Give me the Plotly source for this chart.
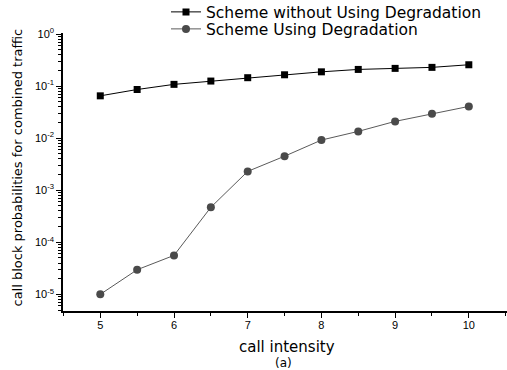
import plotly.graph_objects as go

intensity = [5, 5.5, 6, 6.5, 7, 7.5, 8, 8.5, 9, 9.5, 10]
without_degradation = [0.065, 0.086, 0.108, 0.125, 0.145, 0.165, 0.188, 0.209, 0.219, 0.229, 0.257]
with_degradation = [1.0e-5, 2.97e-5, 5.6e-5, 4.7e-4, 2.3e-3, 4.5e-3, 9.2e-3, 0.0135, 0.021, 0.0294, 0.0407]

y_tick_vals = [1e-5, 1e-4, 1e-3, 1e-2, 1e-1, 1]
y_tick_text = ["10<sup>-5</sup>", "10<sup>-4</sup>", "10<sup>-3</sup>", "10<sup>-2</sup>", "10<sup>-1</sup>", "10<sup>0</sup>"]

W, H = 507, 370
ML, MR, MT, MB = 63, 0, 33, 59

fig = go.Figure()
fig.add_trace(go.Scatter(
    x=intensity, y=without_degradation, mode="lines+markers",
    name="Scheme without Using Degradation", legend="legend",
    line=dict(color="#000000", width=1),
    marker=dict(symbol="square", size=7, color="#000000"),
))
fig.add_trace(go.Scatter(
    x=intensity, y=with_degradation, mode="lines+markers",
    name="Scheme Using Degradation", legend="legend2",
    line=dict(color="#5a5a5a", width=1),
    marker=dict(symbol="circle", size=8, color="#4a4a4a"),
))

tick_font = dict(family="Liberation Sans, Arial", size=11, color="#000000")
legend_font = dict(family="DejaVu Sans", size=15.5, color="#000000")


def legend_at(row_center_y):
    return dict(
        xref="container", yref="container",
        x=166 / W, y=1 - row_center_y / H, xanchor="left", yanchor="middle",
        font=legend_font, bgcolor="rgba(0,0,0,0)", borderwidth=0,
        itemwidth=30,
    )


fig.update_layout(
    width=W, height=H,
    margin=dict(l=ML, r=MR, t=MT, b=MB, pad=0, autoexpand=False),
    paper_bgcolor="#ffffff", plot_bgcolor="#ffffff",
    showlegend=True,
    legend=legend_at(12.3),
    legend2=legend_at(29.3),
    xaxis=dict(
        range=[4.494, 10.518], showgrid=False, zeroline=False,
        showline=True, linecolor="#000000", linewidth=1.5,
        ticks="outside", ticklen=5, tickwidth=1, tickcolor="#000000",
        tickmode="linear", tick0=5, dtick=1,
        tickfont=tick_font, automargin=False, ticklabelstandoff=-2,
        minor=dict(ticks="outside", ticklen=3, tickwidth=1, tickcolor="#000000",
                   dtick=0.5, tick0=5, showgrid=False),
    ),
    yaxis=dict(
        type="log", range=[-5.32, 0.02], showgrid=False, zeroline=False,
        showline=True, linecolor="#000000", linewidth=1.5,
        ticks="outside", ticklen=5, tickwidth=1, tickcolor="#000000",
        tickmode="array", tickvals=y_tick_vals, ticktext=y_tick_text,
        tickfont=tick_font, automargin=False,
        minor=dict(ticks="outside", ticklen=3, tickwidth=1, tickcolor="#000000",
                   dtick="D1", showgrid=False),
    ),
    annotations=[
        dict(text="call intensity", xref="paper", yref="paper",
             x=(286.5 - ML) / (W - ML - MR), y=-(346.7 - (H - MB)) / (H - MT - MB),
             xanchor="center", yanchor="middle", showarrow=False,
             font=dict(family="DejaVu Sans", size=15, color="#000000")),
        dict(text="(a)", xref="paper", yref="paper",
             x=(283 - ML) / (W - ML - MR), y=-(362.7 - (H - MB)) / (H - MT - MB),
             xanchor="center", yanchor="middle", showarrow=False,
             font=dict(family="DejaVu Sans", size=12, color="#000000")),
        dict(text="call block probabilities for combined traffic", xref="paper", yref="paper",
             x=-(ML - 17) / (W - ML - MR), y=((H - MB) - 167.5) / (H - MT - MB),
             xanchor="center", yanchor="middle", textangle=-90, showarrow=False,
             font=dict(family="DejaVu Sans", size=13, color="#000000")),
    ],
)

fig.write_html("out.html")
